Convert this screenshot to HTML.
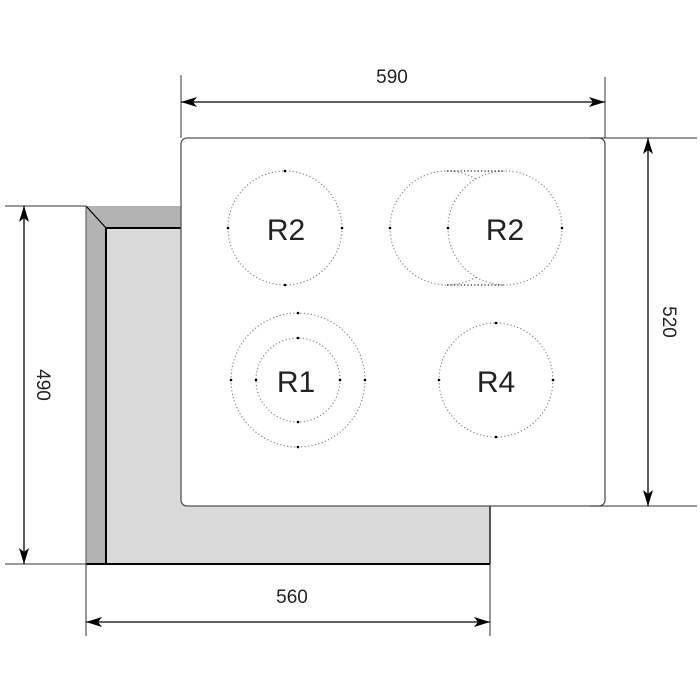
<!DOCTYPE html>
<html><head><style>html,body{margin:0;padding:0;background:#fff}svg{display:block}</style></head><body>
<svg width="700" height="700" viewBox="0 0 700 700" xmlns="http://www.w3.org/2000/svg" font-family="Liberation Sans, sans-serif">
<defs>
<marker id="a" viewBox="0 0 16 10" refX="16" refY="5" markerWidth="16" markerHeight="10" markerUnits="userSpaceOnUse" orient="auto-start-reverse"><path d="M0,0 L16,5 L0,10 L4,5 Z" fill="#000"/></marker>
<mask id="m"><rect x="0" y="0" width="700" height="700" fill="#fff"/><circle cx="505" cy="228" r="56" fill="#000"/></mask>
</defs>
<!-- cutout -->
<rect x="86" y="206" width="404" height="358" fill="#dadada"/>
<path d="M86,206 L181,206 L181,228 L106,228 L106,564 L86,564 Z" fill="#b3b3b3"/>
<line x1="86" y1="206" x2="106" y2="228" stroke="#000" stroke-width="1.2"/>
<path d="M106,564 L106,228 L181,228" fill="none" stroke="#000" stroke-width="2"/>
<line x1="86" y1="564" x2="490" y2="564" stroke="#000" stroke-width="2"/>
<line x1="490" y1="506" x2="490" y2="564" stroke="#000" stroke-width="1.5"/>
<line x1="86" y1="206" x2="86" y2="564" stroke="#555" stroke-width="1"/>
<!-- cooktop -->
<rect x="181" y="138" width="424" height="368" rx="6" fill="#fff" stroke="#555" stroke-width="1.3"/>
<!-- extension lines -->
<g stroke="#333" stroke-width="1">
<line x1="181" y1="75" x2="181" y2="138"/>
<line x1="605" y1="77" x2="605" y2="138"/>
<line x1="590" y1="138" x2="697" y2="138"/>
<line x1="590" y1="506" x2="697" y2="506"/>
<line x1="5" y1="206" x2="86" y2="206"/>
<line x1="5" y1="564" x2="86" y2="564"/>
<line x1="86" y1="564" x2="86" y2="636"/>
<line x1="490" y1="506" x2="490" y2="636"/>
</g>
<!-- dimension arrows -->
<g stroke="#000" stroke-width="1.3" marker-start="url(#a)" marker-end="url(#a)">
<line x1="181" y1="102" x2="605" y2="102"/>
<line x1="648" y1="138" x2="648" y2="506"/>
<line x1="24" y1="206" x2="24" y2="564"/>
<line x1="86" y1="622" x2="490" y2="622"/>
</g>
<g font-size="19" fill="#222" text-anchor="middle">
<text x="392" y="83">590</text>
<text x="292" y="603">560</text>
<text transform="translate(663,322) rotate(90)">520</text>
<text transform="translate(37,385) rotate(90)">490</text>
</g>
<!-- zones -->
<g fill="none" stroke="#888" stroke-width="1.3" stroke-dasharray="0.1 3.4" stroke-linecap="round">
<circle cx="285" cy="228" r="57"/>
<circle cx="447" cy="228" r="57" mask="url(#m)"/>
<circle cx="505" cy="228" r="57"/>
<circle cx="298" cy="380" r="67"/>
<circle cx="298" cy="380" r="42"/>
<circle cx="496" cy="380" r="57"/>
</g>
<g fill="#000">
<circle cx="285" cy="171" r="1.3"/><circle cx="285" cy="285" r="1.3"/><circle cx="228" cy="228" r="1.3"/><circle cx="342" cy="228" r="1.3"/>
<circle cx="390" cy="228" r="1.3"/><circle cx="562" cy="228" r="1.3"/><circle cx="448" cy="228" r="1.3"/>
<circle cx="298" cy="313" r="1.3"/><circle cx="298" cy="447" r="1.3"/><circle cx="231" cy="380" r="1.3"/><circle cx="365" cy="380" r="1.3"/>
<circle cx="298" cy="338" r="1.3"/><circle cx="298" cy="422" r="1.3"/><circle cx="256" cy="380" r="1.3"/><circle cx="340" cy="380" r="1.3"/>
<circle cx="496" cy="323" r="1.3"/><circle cx="496" cy="437" r="1.3"/><circle cx="439" cy="380" r="1.3"/><circle cx="553" cy="380" r="1.3"/>
</g>
<path d="M447,171 L505,171 M447,285 L505,285" stroke="#222" stroke-width="1.3" stroke-dasharray="1.2 2.2"/>
<g font-size="30" fill="#222" text-anchor="middle">
<text x="286" y="240">R2</text>
<text x="505" y="240">R2</text>
<text x="296" y="392">R1</text>
<text x="496" y="392">R4</text>
</g>
</svg>
</body></html>
